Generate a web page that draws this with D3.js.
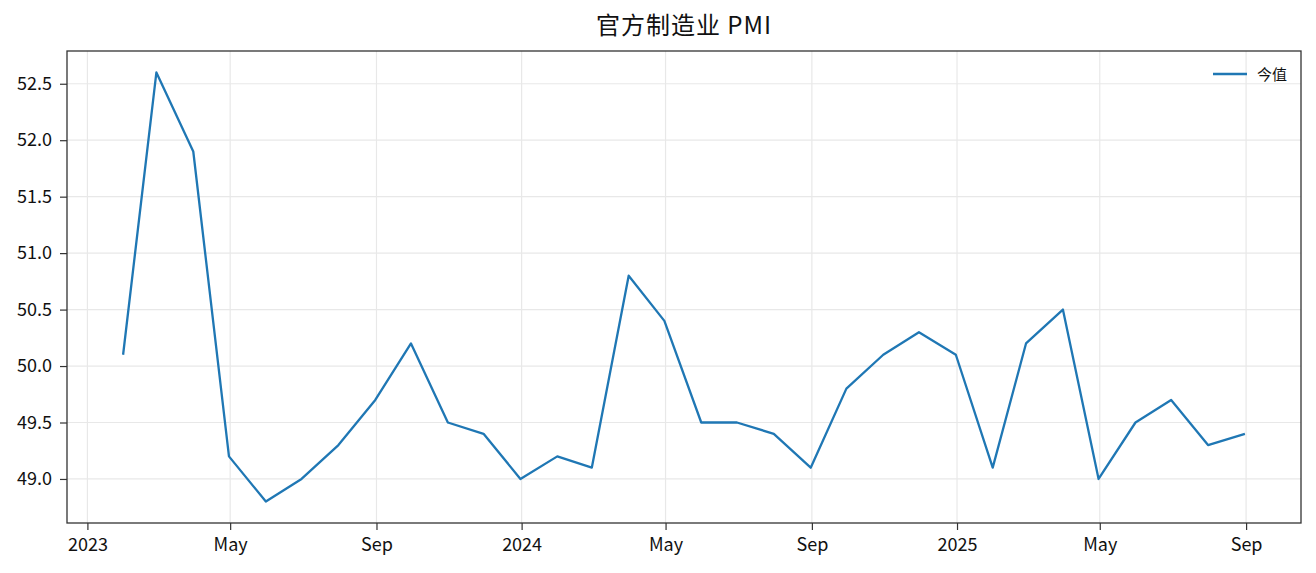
<!DOCTYPE html>
<html><head><meta charset="utf-8">
<script src="https://cdn.jsdelivr.net/npm/d3@7"></script>
<style>body{margin:0;background:#fff;} text{font-family:"Noto Sans CJK SC","Noto Sans",sans-serif;}</style>
</head><body>
<svg id="c" width="1316" height="573"></svg>
<script>
const dates = ["2023-01-31","2023-02-28","2023-03-31","2023-04-30","2023-05-31","2023-06-30","2023-07-31","2023-08-31","2023-09-30","2023-10-31","2023-11-30","2023-12-31",
"2024-01-31","2024-02-29","2024-03-31","2024-04-30","2024-05-31","2024-06-30","2024-07-31","2024-08-31","2024-09-30","2024-10-31","2024-11-30","2024-12-31",
"2025-01-31","2025-02-28","2025-03-31","2025-04-30","2025-05-31","2025-06-30","2025-07-31","2025-08-31"];
const values = [50.1,52.6,51.9,49.2,48.8,49.0,49.3,49.7,50.2,49.5,49.4,49.0,
49.2,49.1,50.8,50.4,49.5,49.5,49.4,49.1,49.8,50.1,50.3,50.1,
49.1,50.2,50.5,49.0,49.5,49.7,49.3,49.4];
const xTicks = ["2023-01-01","2023-05-01","2023-09-01","2024-01-01","2024-05-01","2024-09-01","2025-01-01","2025-05-01","2025-09-01"];
const xTickLabels = ["2023","May","Sep","2024","May","Sep","2025","May","Sep"];
const yTicks = [49.0,49.5,50.0,50.5,51.0,51.5,52.0,52.5];
const title = "官方制造业 PMI";
const seriesName = "今值";

const parse = d3.utcParse("%Y-%m-%d");
const data = dates.map((d,i)=>({date:parse(d), v:values[i]}));
const L=67,R=1301,T=51,B=523;
const svg = d3.select("#c");
const [x0,x1] = d3.extent(data,d=>d.date);
const span = x1-x0;
const x = d3.scaleUtc().domain([new Date(+x0-span*0.05), new Date(+x1+span*0.05)]).range([L,R]);
const [y0,y1] = d3.extent(values);
const yr = y1-y0;
const y = d3.scaleLinear().domain([y0-yr*0.05, y1+yr*0.05]).range([B,T]);

const g = svg.append("g");
// grid
g.selectAll(".gx").data(xTicks).join("line").attr("x1",d=>x(parse(d))).attr("x2",d=>x(parse(d))).attr("y1",T).attr("y2",B).attr("stroke","#e8e8e8").attr("stroke-width",1.2);
g.selectAll(".gy").data(yTicks).join("line").attr("x1",L).attr("x2",R).attr("y1",d=>y(d)).attr("y2",d=>y(d)).attr("stroke","#e8e8e8").attr("stroke-width",1.2);

// line
svg.append("path").datum(data).attr("fill","none").attr("stroke","#1f77b4").attr("stroke-width",2.3).attr("stroke-linejoin","round")
  .attr("d", d3.line().x(d=>x(d.date)).y(d=>y(d.v)));

// axes
const xa = svg.append("g").attr("transform",`translate(0,${B})`).call(d3.axisBottom(x).tickValues(xTicks.map(parse)).tickFormat((d,i)=>xTickLabels[i]).tickSize(7).tickPadding(8));
const ya = svg.append("g").attr("transform",`translate(${L},0)`).call(d3.axisLeft(y).tickValues(yTicks).tickFormat(d3.format(".1f")).tickSize(7).tickPadding(8));
[xa,ya].forEach(a=>{a.select(".domain").remove(); a.selectAll("line").attr("stroke","#333").attr("stroke-width",1.2); a.selectAll("text").attr("font-size",18).attr("fill","#111").style("font-family",'"Noto Sans CJK SC","Noto Sans",sans-serif');});
// frame
svg.append("rect").attr("x",L).attr("y",T).attr("width",R-L).attr("height",B-T).attr("fill","none").attr("stroke","#333").attr("stroke-width",1.3);

// title
svg.append("text").attr("x",(L+R)/2).attr("y",34).attr("text-anchor","middle").attr("font-size",24).attr("letter-spacing",1).attr("fill","#111").text(title);

// legend
svg.append("line").attr("x1",1213).attr("x2",1247).attr("y1",74).attr("y2",74).attr("stroke","#1f77b4").attr("stroke-width",2.3);
svg.append("text").attr("x",1257).attr("y",79.5).attr("font-size",15).attr("fill","#111").text(seriesName);
</script>
</body></html>
